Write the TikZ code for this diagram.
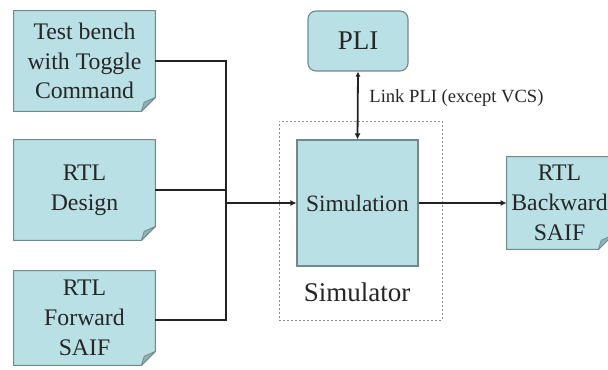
\documentclass[tikz,border=0pt]{standalone}
\usepackage{fontspec}
\setmainfont{Liberation Serif}
\usetikzlibrary{arrows.meta}
\definecolor{boxfill}{HTML}{B9E0E4}
\definecolor{boxline}{HTML}{6F8A8D}
\definecolor{foldfill}{HTML}{8FB3B7}
\definecolor{wire}{HTML}{222222}
\tikzset{
  txt/.style={inner sep=0pt, align=center, font=\fontsize{9}{11.3}\selectfont,
    text=black!85, scale=#1},
  doc/.style={minimum width=#1, inner sep=0pt},
  simbox/.style={draw=boxline, fill=boxfill, line width=0.55pt, inner sep=0pt},
  plibox/.style={draw=boxline, fill=boxfill, line width=0.55pt, rounded corners=4pt,
    minimum width=50pt, minimum height=30pt},
  frame/.style={draw=black!45, dash pattern=on 1pt off 1pt, line width=0.45pt},
  wireline/.style={draw=wire, line width=0.9pt},
  tip/.style={-{Latex[length=3pt,width=3pt]}},
  lbl/.style={font=\fontsize{9.3}{11}\selectfont, text=black!85, inner sep=0pt}
}
% a document sheet with a folded bottom-right corner, drawn round a node
\newcommand{\docsheet}[2][7]{%
  \fill[boxfill] (#2.north west) -- (#2.north east) -- ([yshift=#1pt]#2.south east)
    -- ([xshift=-#1pt]#2.south east) -- (#2.south west) -- cycle;
  \draw[boxline, line width=0.55pt, line join=round] (#2.north west) -- (#2.north east) -- ([yshift=#1pt]#2.south east)
    -- ([xshift=-#1pt]#2.south east) -- (#2.south west) -- cycle;
  \filldraw[fill=foldfill, draw=boxline, line width=0.4pt, line join=round]
    ([yshift=#1pt]#2.south east) -- ([xshift=-#1pt]#2.south east)
    -- ([xshift=-0.8*#1pt, yshift=0.65*#1pt]#2.south east) -- cycle;
}
\begin{document}
\begin{tikzpicture}[x=0.5pt, y=-0.5pt]
\useasboundingbox (0,0) rectangle (608,369);

% input documents
\node[doc=70.5pt, minimum height=50pt] (tb) at (84.5,61) {};
\node[doc=70.5pt, minimum height=50pt] (rd) at (84.5,190) {};
\node[doc=70.5pt, minimum height=47pt] (rf) at (84.5,318) {};
\node[doc=52.5pt, minimum height=46pt] (rb) at (559.5,203) {};
\docsheet{tb}
\docsheet{rd}
\docsheet{rf}
\docsheet{rb}
\node[txt=1.32] (tbtext) at (tb) {Test bench\\with Toggle\\Command};
\node[txt=1.32] (rdtext) at (rd) {RTL\\Design};
\node[txt=1.32] (rftext) at (rf) {RTL\\Forward\\SAIF};
\node[txt=1.32] (rbtext) at (rb) {RTL\\Backward\\SAIF};

% simulator frame and simulation engine
\node[frame, minimum width=81.5pt, minimum height=99.5pt] (simr) at (360.5,220.5) {};
\node[simbox, minimum width=60.5pt, minimum height=63pt] (sim) at (357.5,203) {};
\node[txt=1.3] (simtext) at (sim) {Simulation};
\node[txt=1.5] (simlbl) at (357,292) {Simulator};

% PLI
\node[plibox] (pli) at (358,41) {};
\node[txt=1.5] (plitext) at (pli) {PLI};

% merging the inputs
\coordinate (jt) at (226,61);
\coordinate (jm) at (226,203);
\coordinate (jb) at (226,320);
\draw[wireline] (tb.east) -- (jt) -- (jb) -- (rf.east |- jb);
\draw[wireline] (rd.east) -- (rd.east -| jt);
\draw[wireline, tip] (jm) -- (sim.west);
\draw[wireline, tip] (sim.east) -- (rb.west);

% PLI link
\draw[wireline, {Latex[length=2.5pt,width=2.5pt]}-{Latex[length=3pt,width=3pt]}] (pli.south) -- (sim.north);
\node[lbl, anchor=west] (linklbl) at (369,98) {Link PLI (except VCS)};
\end{tikzpicture}
\end{document}
